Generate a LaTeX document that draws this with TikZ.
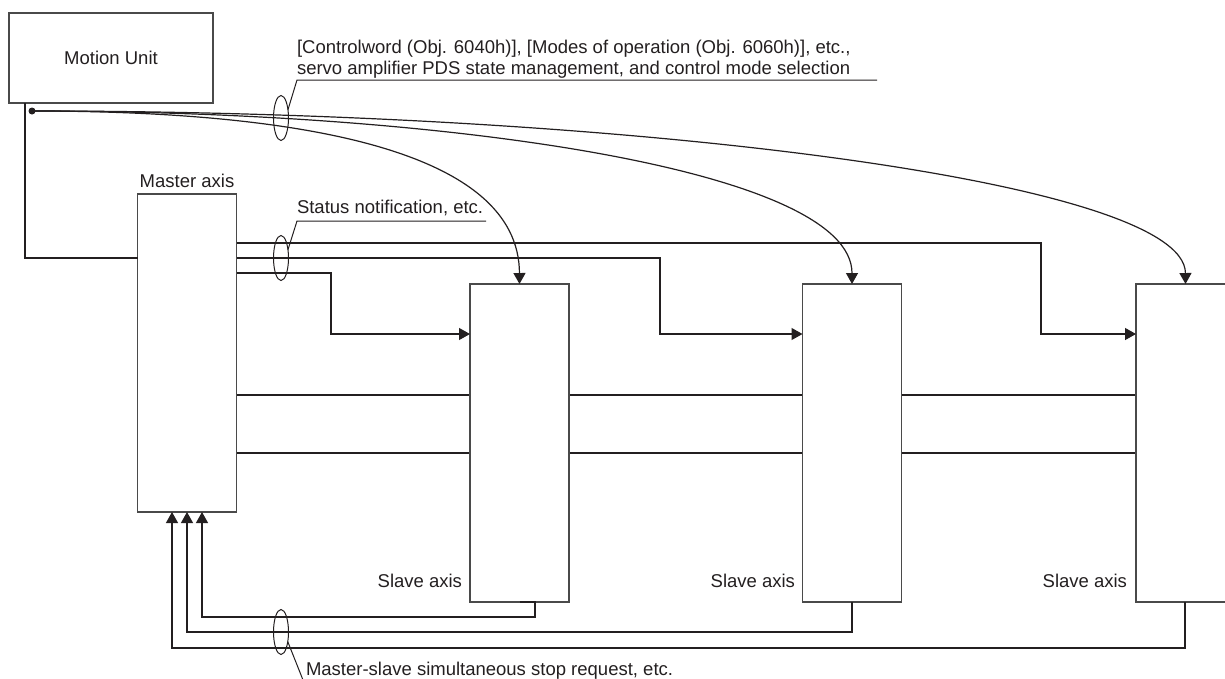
\documentclass[tikz,border=0pt]{standalone}
\usepackage{fontspec}
\setmainfont{Liberation Sans}
\usetikzlibrary{arrows.meta,shapes.geometric}
\definecolor{ln}{HTML}{231F20}
\definecolor{bx}{HTML}{4A4A4A}
\begin{document}
\begin{tikzpicture}[x=1pt,y=-1pt,line width=1.2pt,draw=ln,
  every node/.style={font=\fontsize{18.5}{21}\selectfont,inner sep=0pt,outer sep=0pt,text=ln},
  axisbox/.style={draw=bx,line width=1.4pt,fill=white,minimum width=99pt,minimum height=318pt},
  unitbox/.style={draw=bx,line width=1.4pt,fill=white,minimum width=204pt,minimum height=90pt},
  bundle/.style={ellipse,draw=ln,line width=1pt,minimum width=15pt,minimum height=45pt},
  arr/.style={-{Triangle[length=11pt,width=12pt]}},
  lbl/.style={anchor=base west}]
\useasboundingbox (0,0) rectangle (1225,678);
\clip (0,0) rectangle (1225,678);

% shaft
\coordinate (sh1) at (236,395);
\coordinate (sh2) at (236,453);
\draw[line width=1.3pt] (236,395) -- (1136,395);
\draw[line width=1.3pt] (236,453) -- (1136,453);

% boxes
\node[unitbox] (mu) at (111,58) {Motion Unit};
\node[axisbox] (master) at (187,353) {};
\node[axisbox] (s1) at (519.5,443) {};
\node[axisbox] (s2) at (852,443) {};
\node[axisbox] (s3) at (1185.5,443) {};

\node[anchor=base] (mlbl) at (187,187) {Master axis};
\node[anchor=base east] (l1) at (462,587) {Slave axis};
\node[anchor=base east] (l2) at (795,587) {Slave axis};
\node[anchor=base east] (l3) at (1127,587) {Slave axis};

% Motion unit to master
\draw (mu.south west -| 25,0) -- (25,258) -- (master.west |- 0,258);

% dot and curves
\node[circle,fill=ln,minimum size=7pt] (dot) at (32,111) {};
\draw[arr] (dot.center) .. controls (300,111) and (519,150) .. (s1.north);
\draw[arr] (dot.center) .. controls (450,111) and (852,170) .. (s2.north);
\draw[arr] (dot.center) .. controls (620,111) and (1185,180) .. (s3.north);

% status lines
\draw[arr] (master.east |- 0,243) -- (1041,243) -- (1041,334) -- (s3.west |- 0,334);
\draw[arr] (master.east |- 0,258) -- (660,258) -- (660,334) -- (s2.west |- 0,334);
\draw[arr] (master.east |- 0,273) -- (331,273) -- (331,334) -- (s1.west |- 0,334);

% stop request lines
\draw[arr] (s1.south |- 0,602) -- (535,602) -- (535,617) -- (202,617) -- (master.south -| 202,0);
\draw[arr] (852,602) -- (852,632) -- (187,632) -- (master.south -| 187,0);
\draw[arr] (1185,602) -- (1185,648) -- (172,648) -- (master.south -| 172,0);

% bundles and leaders
\node[bundle] (e1) at (281,118) {};
\node[bundle] (e2) at (281,258) {};
\node[bundle] (e3) at (281,632) {};
\draw[line width=1pt] (e1.50) -- (297,80) -- (877,80);
\draw[line width=1pt] (e2.50) -- (297,221) -- (486,221);
\draw[line width=1pt] (e3.-55) -- (303,680);

\node[lbl] (t1) at (297,53) {[Controlword (Obj. 6040h)], [Modes of operation (Obj. 6060h)], etc.,};
\node[lbl] (t2) at (297,74) {servo amplifier PDS state management, and control mode selection};
\node[lbl] (t3) at (297,213) {Status notification, etc.};
\node[lbl] (t4) at (306,675) {Master-slave simultaneous stop request, etc.};
\end{tikzpicture}
\end{document}
